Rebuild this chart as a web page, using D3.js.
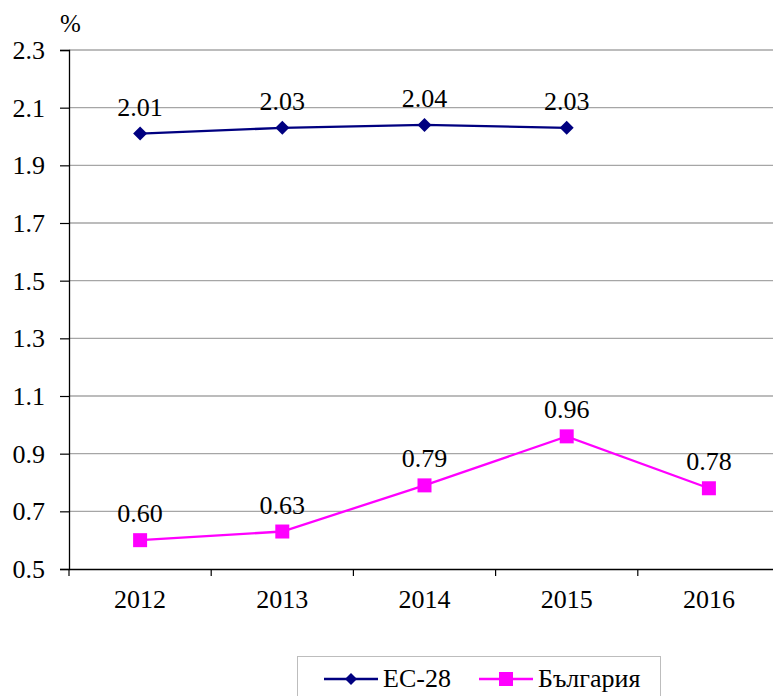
<!DOCTYPE html>
<html>
<head>
<meta charset="utf-8">
<script src="https://cdn.jsdelivr.net/npm/d3@7"></script>
<style>
  html, body { margin: 0; padding: 0; background: #fff; overflow: hidden; }
  svg { display: block; }
  svg text { font-family: "Liberation Serif", "Times New Roman", serif; fill: #000; }
</style>
</head>
<body>
<svg id="chart" width="773" height="696"></svg>
<script>
const years = ["2012", "2013", "2014", "2015", "2016"];
const euValues = [2.01, 2.03, 2.04, 2.03, null];
const bgValues = [0.60, 0.63, 0.79, 0.96, 0.78];
const yTicks = [0.5, 0.7, 0.9, 1.1, 1.3, 1.5, 1.7, 1.9, 2.1, 2.3];
const seriesNames = ["ЕС-28", "България"];

const svg = d3.select("#chart");
const plotLeft = 69, plotTop = 50, plotBottom = 569;
const band = 142.2;
const fontSize = 26;

const x = d3.scaleBand().domain(years).range([plotLeft, plotLeft + band * years.length]);
const y = d3.scaleLinear().domain([0.5, 2.3]).range([plotBottom, plotTop]);

// grid
svg.append("g")
  .selectAll("line")
  .data(yTicks.filter((d) => d > 0.5))
  .join("line")
  .attr("x1", plotLeft).attr("x2", 773)
  .attr("y1", (d) => y(d)).attr("y2", (d) => y(d))
  .attr("stroke", "#a6a6a6").attr("stroke-width", 1.3);

// y axis
const yAxis = svg.append("g")
  .attr("transform", `translate(${plotLeft},0)`)
  .call(d3.axisLeft(y).tickValues(yTicks).tickFormat(d3.format(".1f")).tickSizeOuter(0).tickSize(9).tickPadding(15));
yAxis.select(".domain").attr("stroke", "#000").attr("stroke-width", 1.3);
yAxis.selectAll(".tick line").attr("stroke", "#000").attr("stroke-width", 1.2);
yAxis.selectAll("text").attr("font-size", fontSize).attr("dy", "0.33em");

// x axis
const xAxis = svg.append("g")
  .attr("transform", `translate(0,${plotBottom})`)
  .call(d3.axisBottom(x).tickSize(0).tickSizeOuter(0).tickPadding(21));
xAxis.select(".domain").attr("stroke", "#000").attr("stroke-width", 1.3);
xAxis.selectAll("text").attr("font-size", fontSize);
xAxis.append("g").selectAll("line")
  .data(d3.range(years.length + 1))
  .join("line")
  .attr("x1", (i) => plotLeft + band * i).attr("x2", (i) => plotLeft + band * i)
  .attr("y1", 0).attr("y2", 7)
  .attr("stroke", "#000").attr("stroke-width", 1.2);

svg.append("text")
  .attr("x", 60).attr("y", 32)
  .attr("font-size", 25).text("%");

const cx = (i) => x(years[i]) + x.bandwidth() / 2;

const diamond = {
  draw(ctx, size) {
    const r = Math.sqrt(size) / 2;
    ctx.moveTo(0, -r); ctx.lineTo(r, 0); ctx.lineTo(0, r); ctx.lineTo(-r, 0); ctx.closePath();
  }
};

function drawSeries(values, color, symbolType) {
  const pts = values.map((v, i) => ({ v, i })).filter((d) => d.v !== null);
  svg.append("path")
    .datum(pts)
    .attr("fill", "none")
    .attr("stroke", color)
    .attr("stroke-width", 2.3)
    .attr("d", d3.line().x((d) => cx(d.i)).y((d) => y(d.v)));
  svg.append("g").selectAll("path")
    .data(pts)
    .join("path")
    .attr("transform", (d) => `translate(${cx(d.i)},${y(d.v)})`)
    .attr("d", d3.symbol().type(symbolType).size(196))
    .attr("fill", color);
  svg.append("g").selectAll("text")
    .data(pts)
    .join("text")
    .attr("x", (d) => cx(d.i))
    .attr("y", (d) => y(d.v) - 18)
    .attr("text-anchor", "middle")
    .attr("font-size", fontSize)
    .text((d) => d.v.toFixed(2));
}

drawSeries(euValues, "#000080", diamond);
drawSeries(bgValues, "#ff00ff", d3.symbolSquare);

// legend
const lg = svg.append("g");
lg.append("rect")
  .attr("x", 297.5).attr("y", 656.5).attr("width", 363).attr("height", 60)
  .attr("fill", "#fff").attr("stroke", "#bdbdbd").attr("stroke-width", 1);
const legendItems = [
  { name: seriesNames[0], color: "#000080", type: diamond, x0: 324 },
  { name: seriesNames[1], color: "#ff00ff", type: d3.symbolSquare, x0: 479 }
];
legendItems.forEach((d) => {
  lg.append("line").attr("x1", d.x0).attr("x2", d.x0 + 54)
    .attr("y1", 679).attr("y2", 679)
    .attr("stroke", d.color).attr("stroke-width", 2.3);
  lg.append("path")
    .attr("transform", `translate(${d.x0 + 27},679)`)
    .attr("d", d3.symbol().type(d.type).size(d.type === diamond ? 144 : 196))
    .attr("fill", d.color);
  lg.append("text").attr("x", d.x0 + 59).attr("y", 687)
    .attr("font-size", fontSize).text(d.name);
});
</script>
</body>
</html>
